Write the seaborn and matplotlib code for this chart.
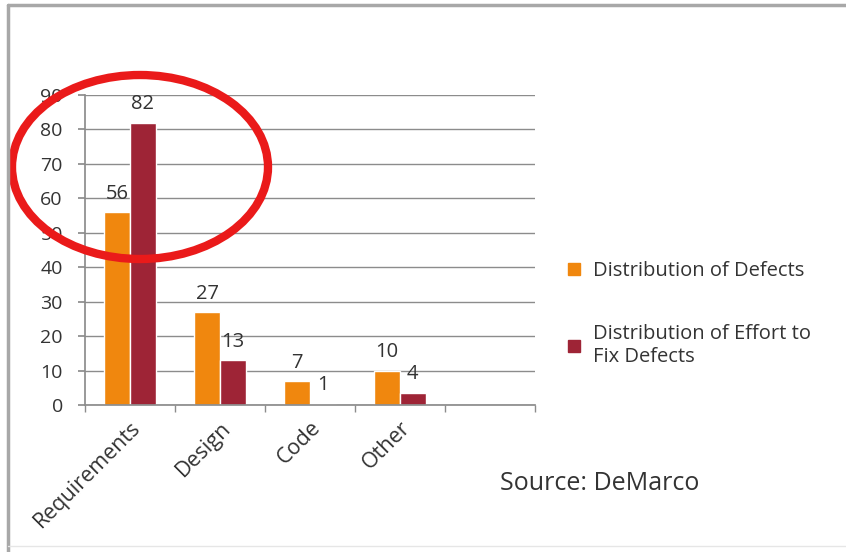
import pandas as pd
import seaborn as sns
import matplotlib.pyplot as plt
from matplotlib.patches import Ellipse
from matplotlib.lines import Line2D

# Datos
categories = ['Requirements', 'Design', 'Code', 'Other']
defects = [56, 27, 7, 10]
effort = [82, 13, 1, 4]
effort_bar = [82, 13, 0.4, 3.6]  # alturas dibujadas (el "1" casi no se ve)
series_names = ['Distribution of Defects', 'Distribution of Effort to\nFix Defects']
colors = ['#F0870E', '#9E2436']

df = pd.DataFrame({
    'cat': categories * 2,
    'value': defects + effort_bar,
    'serie': [series_names[0]] * 4 + [series_names[1]] * 4,
})

sns.set_theme(style='white')
plt.rcParams['font.family'] = ['Open Sans', 'DejaVu Sans']

fig = plt.figure(figsize=(8.46, 5.52), dpi=100)
ax = fig.add_axes([85 / 846, 147 / 552, 450 / 846, 310 / 552])

sns.barplot(data=df, x='cat', y='value', hue='serie', order=categories,
            palette=colors, width=0.57, saturation=1, ax=ax, legend=False)

# etiquetas de valor encima de cada barra
labels = [defects, effort]
for cont, labs in zip(ax.containers, labels):
    ax.bar_label(cont, labels=[str(v) for v in labs], padding=6,
                 fontsize=14.5, color='#333333')

ax.set_xlim(-0.5, 4.5)
ax.set_ylim(0, 90)
ax.set_yticks(range(0, 91, 10))
ax.yaxis.grid(True, color='#8c8c8c', lw=1)
ax.set_axisbelow(True)
ax.set_xlabel('')
ax.set_ylabel('')
for s in ['top', 'right']:
    ax.spines[s].set_visible(False)
for s in ['left', 'bottom']:
    ax.spines[s].set_color('#8c8c8c')
ax.tick_params(axis='y', left=True, length=5, color='#8c8c8c',
               labelsize=14, labelcolor='#333333', pad=11)
ax.set_xticks([i - 0.5 for i in range(6)], minor=True)
ax.tick_params(axis='x', which='minor', bottom=True, length=5, color='#8c8c8c')
ax.set_xticks(range(len(categories)))
ax.set_xticklabels(categories, rotation=45, ha='right', rotation_mode='anchor',
                   fontsize=15.5, color='#333333')
ax.tick_params(axis='x', which='major', bottom=False, pad=3)

# leyenda
handles = [Line2D([], [], marker='s', ls='', color=c, markersize=8) for c in colors]
fig.legend(handles, series_names, loc='upper left', bbox_to_anchor=(546 / 846, 1 - 243 / 552),
           frameon=False, fontsize=14.5, labelspacing=2.15, handletextpad=0.45,
           handlelength=1.0, labelcolor='#333333')

fig.text(500 / 846, 1 - 483 / 552, 'Source: DeMarco', fontsize=18,
         color='#333333', va='center')

# marco exterior
fig.add_artist(Line2D([8 / 846, 1], [1 - 5 / 552, 1 - 5 / 552], color='#a8a8a8', lw=2.5,
                      transform=fig.transFigure))
fig.add_artist(Line2D([8 / 846, 8 / 846], [1 - 5 / 552, 0], color='#a8a8a8', lw=2.5,
                      transform=fig.transFigure))
fig.add_artist(Line2D([8 / 846, 1], [1 - 546 / 552, 1 - 546 / 552], color='#e6e6e6', lw=1,
                      transform=fig.transFigure))

# circulo rojo
fig.add_artist(Ellipse((1.40, (552 - 167) / 100), 2.56, 1.84, fill=False,
                       edgecolor='#ea1a1a', lw=6, transform=fig.dpi_scale_trans))

fig.savefig('out.png', dpi=100)
